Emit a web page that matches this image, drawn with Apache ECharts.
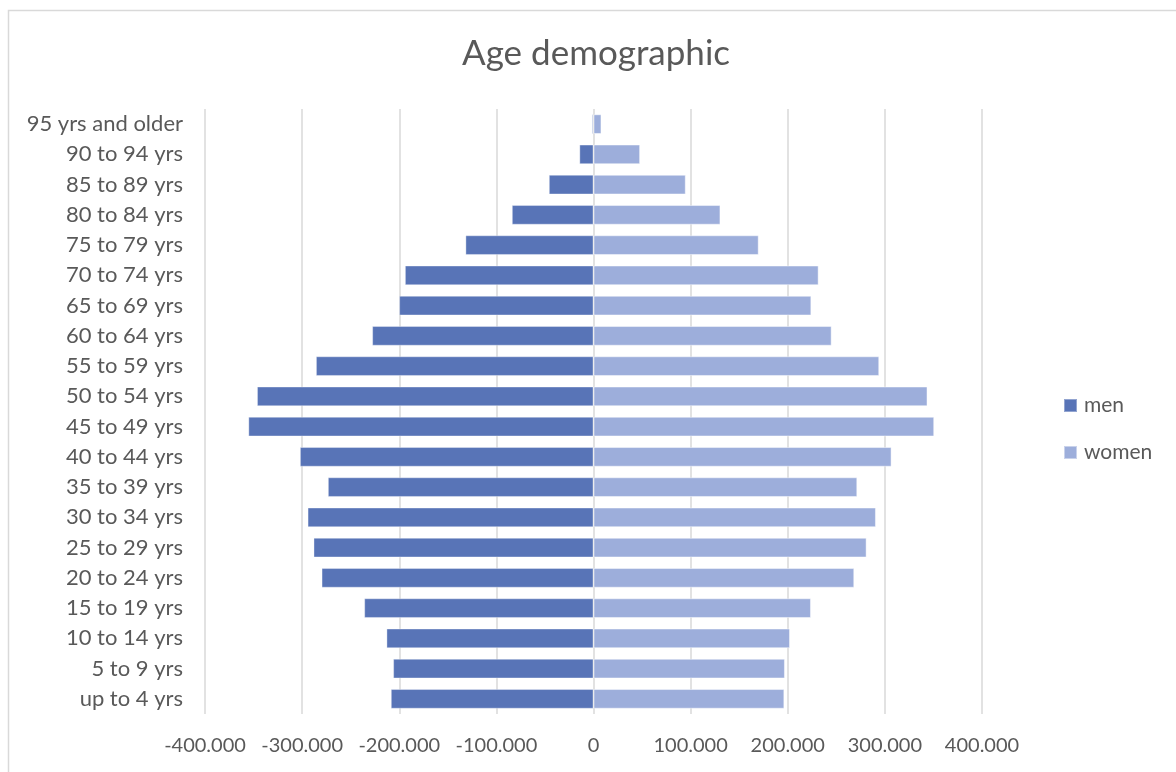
<!DOCTYPE html>
<html>
<head>
<meta charset="utf-8">
<title>Age demographic</title>
<script src="https://cdn.jsdelivr.net/npm/echarts@6/dist/echarts.min.js"></script>
<style>
  html, body { margin: 0; padding: 0; background: #fff; overflow: hidden; }
  #chart { width: 1176px; height: 772px; }
</style>
</head>
<body>
<div id="chart"></div>
<script>
// Age groups, youngest at the bottom of the pyramid
const ageGroups = [
  'up to 4 yrs', '5 to 9 yrs', '10 to 14 yrs', '15 to 19 yrs', '20 to 24 yrs',
  '25 to 29 yrs', '30 to 34 yrs', '35 to 39 yrs', '40 to 44 yrs', '45 to 49 yrs',
  '50 to 54 yrs', '55 to 59 yrs', '60 to 64 yrs', '65 to 69 yrs', '70 to 74 yrs',
  '75 to 79 yrs', '80 to 84 yrs', '85 to 89 yrs', '90 to 94 yrs', '95 yrs and older'
];

// Men are plotted to the left of zero
const men = [
  -208700, -206300, -213200, -236100, -280000,
  -288300, -294400, -273500, -302300, -355400,
  -346500, -285800, -227900, -200100, -194200,
  -131900, -84100, -46000, -14600, -1500
];

const women = [
  196500, 197100, 202300, 223900, 268500,
  281200, 290800, 271600, 306900, 350800,
  343900, 294200, 245200, 224300, 231800,
  170100, 130700, 95000, 48000, 8200
];

const xMin = -400000;
const xMax = 400000;
const xStep = 100000;

const FONT = 'Lato, "Open Sans", sans-serif';
const TEXT = '#595959';

// 400000 -> "400.000"
function fmt(v) {
  const s = Math.abs(v).toString().replace(/\B(?=(\d{3})+(?!\d))/g, '.');
  return (v < 0 ? '-' : '') + s;
}

const chart = echarts.init(document.getElementById('chart'));
chart.setOption({
  backgroundColor: '#fff',
  animation: false,
  title: {
    text: 'Age demographic',
    left: 596,
    top: 36,
    padding: 0,
    textAlign: 'center',
    textStyle: { fontFamily: FONT, fontSize: 35, fontWeight: 'normal', color: TEXT }
  },
  graphic: [{
    type: 'rect',
    shape: { x: 8.5, y: 10.5, width: 1200, height: 800 },
    style: { fill: 'none', stroke: '#d9d9d9', lineWidth: 1.5 },
    silent: true
  }],
  legend: {
    orient: 'vertical',
    left: 1063,
    top: 395,
    padding: 0,
    itemWidth: 13,
    itemHeight: 13,
    itemGap: 26,
    icon: 'rect',
    data: ['men', 'women'],
    textStyle: { fontFamily: FONT, fontSize: 21, color: TEXT, padding: [0, 0, 0, 2] }
  },
  grid: { left: 205, right: 194, top: 109, bottom: 58, containLabel: false },
  xAxis: {
    type: 'value',
    min: xMin,
    max: xMax,
    interval: xStep,
    axisLine: { show: false },
    axisTick: { show: false },
    splitLine: { show: true, lineStyle: { color: '#d9d9d9', width: 1.5 } },
    axisLabel: {
      margin: 22,
      fontFamily: FONT,
      fontSize: 20,
      color: TEXT,
      formatter: fmt
    }
  },
  yAxis: {
    type: 'category',
    data: ageGroups,
    axisLine: { show: false },
    axisTick: { show: false },
    axisLabel: { margin: 22, fontFamily: FONT, fontSize: 22, color: TEXT }
  },
  series: [
    {
      name: 'men',
      type: 'bar',
      stack: 'pop',
      data: men,
      barCategoryGap: '35%',
      itemStyle: { color: '#5874b7', borderColor: 'rgba(255,255,255,0.35)', borderWidth: 1 }
    },
    {
      name: 'women',
      type: 'bar',
      stack: 'pop',
      data: women,
      barCategoryGap: '35%',
      itemStyle: { color: '#9daedb', borderColor: 'rgba(255,255,255,0.45)', borderWidth: 1 }
    }
  ]
});
</script>
</body>
</html>
